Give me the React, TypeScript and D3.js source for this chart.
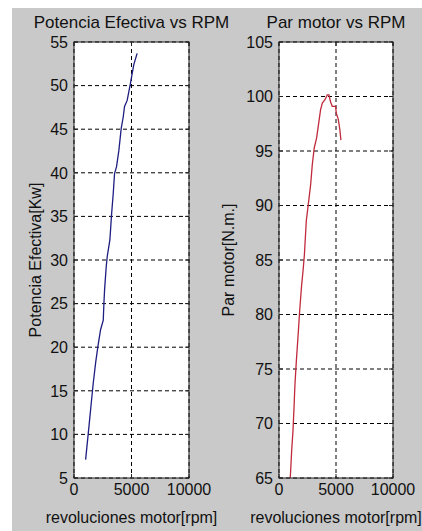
import * as d3 from "d3";

// Potencia efectiva (kW) vs rpm
const rpmPower = [
  1010, 1155, 1330, 1500, 1675, 1880, 2080, 2310, 2545, 2600, 2660, 2800, 2890, 3120,
  3265, 3410, 3525, 3700, 3905, 4105, 4280, 4395, 4625, 4915, 5060, 5200, 5490,
];
const power = [
  7.1, 9.0, 11.3, 13.6, 15.9, 18.2, 20.1, 22.0, 23.1, 25.0, 26.6, 29.2, 30.4, 32.3,
  35.2, 37.6, 39.9, 40.7, 42.6, 45.1, 46.4, 47.6, 48.3, 50.3, 51.4, 52.4, 53.7,
];

// Par motor (N.m.) vs rpm
const rpmTorque = [
  965, 1020, 1110, 1225, 1315, 1400, 1520, 1695, 1810, 1985, 2100, 2230, 2395, 2570,
  2775, 2920, 3095, 3300, 3500, 3650, 3800, 4030, 4235, 4380, 4525, 4670, 4965, 5020,
  5200, 5340, 5430,
];
const torque = [
  64.7, 65.6, 67.5, 69.3, 71.4, 73.6, 75.7, 78.4, 80.3, 82.7, 83.9, 85.5, 88.6, 90.1,
  91.9, 93.75, 95.3, 96.2, 97.7, 98.8, 99.4, 99.7, 100.15, 100.15, 99.5, 99.1, 99.1, 98.5,
  97.9, 96.95, 96.0,
];

const rpmTicks = [0, 5000, 10000];
const powerTicks = [5, 10, 15, 20, 25, 30, 35, 40, 45, 50, 55];
const torqueTicks = [65, 70, 75, 80, 85, 90, 95, 100, 105];

const width = 422;
const height = 531;
const top = 42;
const bottom = 478;
const font = "'Liberation Sans', Arial, sans-serif";

type PanelProps = {
  id: string;
  left: number;
  right: number;
  xs: number[];
  ys: number[];
  yTicks: number[];
  color: string;
  title: string;
  yLabel: string;
  yLabelX: number;
};

const Panel = ({ id, left, right, xs, ys, yTicks, color, title, yLabel, yLabelX }: PanelProps) => {
  const x = d3.scaleLinear().domain([0, 10000]).range([left, right]);
  const y = d3
    .scaleLinear()
    .domain([yTicks[0], yTicks[yTicks.length - 1]])
    .range([bottom, top]);
  const line = d3
    .line<number>()
    .x((_, i) => x(xs[i]))
    .y((d) => y(d));
  const cx = (left + right) / 2;
  const tickLen = 4;

  return (
    <g>
      <rect x={left} y={top} width={right - left} height={bottom - top} fill="#fff" />
      <clipPath id={id}>
        <rect x={left} y={top} width={right - left} height={bottom - top} />
      </clipPath>
      {yTicks.map((t) => (
        <line
          key={"gy" + t}
          x1={left}
          x2={right}
          y1={y(t)}
          y2={y(t)}
          stroke="#000"
          strokeDasharray="4,3"
        />
      ))}
      {rpmTicks.map((t) => (
        <line
          key={"gx" + t}
          x1={x(t)}
          x2={x(t)}
          y1={top}
          y2={bottom}
          stroke="#000"
          strokeDasharray="4,3"
        />
      ))}
      <path
        d={line(ys) ?? ""}
        fill="none"
        stroke={color}
        strokeWidth={1.3}
        clipPath={`url(#${id})`}
      />
      <rect
        x={left}
        y={top}
        width={right - left}
        height={bottom - top}
        fill="none"
        stroke="#222"
        strokeWidth={1}
      />
      {yTicks.map((t) => (
        <g key={"ty" + t}>
          <line x1={left} x2={left + tickLen} y1={y(t)} y2={y(t)} stroke="#222" />
          <line x1={right} x2={right - tickLen} y1={y(t)} y2={y(t)} stroke="#222" />
          <text
            x={left - 6}
            y={y(t)}
            dy="0.36em"
            textAnchor="end"
            fontSize={16}
            fontFamily={font}
            fill="#111"
          >
            {t}
          </text>
        </g>
      ))}
      {rpmTicks.map((t) => (
        <g key={"tx" + t}>
          <line x1={x(t)} x2={x(t)} y1={bottom} y2={bottom - tickLen} stroke="#222" />
          <line x1={x(t)} x2={x(t)} y1={top} y2={top + tickLen} stroke="#222" />
          <text
            x={x(t)}
            y={495}
            textAnchor="middle"
            fontSize={16}
            fontFamily={font}
            fill="#111"
          >
            {t}
          </text>
        </g>
      ))}
      <text x={cx} y={28} textAnchor="middle" fontSize={17} fontFamily={font} fill="#111">
        {title}
      </text>
      <text x={cx} y={523} textAnchor="middle" fontSize={16} fontFamily={font} fill="#111">
        revoluciones motor[rpm]
      </text>
      <text
        transform={`translate(${yLabelX},${(top + bottom) / 2}) rotate(-90)`}
        textAnchor="middle"
        fontSize={16}
        fontFamily={font}
        fill="#111"
      >
        {yLabel}
      </text>
    </g>
  );
};

export default function App() {
  return (
    <svg
      width={width}
      height={height}
      style={{ position: "absolute", left: 0, top: 0 }}
    >
      <rect width={width} height={height} fill="#fff" />
      <rect x={12} y={8} width={width - 12} height={height - 8} fill="#c9c9c9" />
      <Panel
        id="clipPower"
        left={74}
        right={189}
        xs={rpmPower}
        ys={power}
        yTicks={powerTicks}
        color="#1e1e82"
        title="Potencia Efectiva vs RPM"
        yLabel="Potencia Efectiva[Kw]"
        yLabelX={41}
      />
      <Panel
        id="clipTorque"
        left={279}
        right={393}
        xs={rpmTorque}
        ys={torque}
        yTicks={torqueTicks}
        color="#c02a3c"
        title="Par motor vs RPM"
        yLabel="Par motor[N.m.]"
        yLabelX={234}
      />
    </svg>
  );
}
